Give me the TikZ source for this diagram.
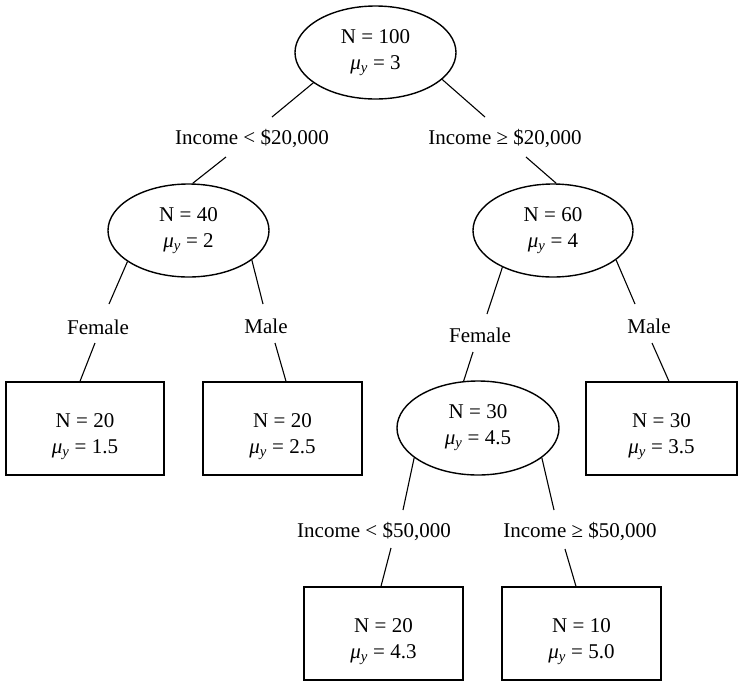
\documentclass[tikz,border=0pt]{standalone}
\usepackage{fontspec}
\setmainfont{Liberation Serif}
\usetikzlibrary{shapes.geometric,calc}
\newcommand\myMu{\textit{μ}\textsubscript{\textit{y}}}
\newcommand\myLow{\rule{0pt}{30pt}}
\begin{document}
\begin{tikzpicture}[x=1pt,y=-1pt,
  every node/.style={font=\fontsize{21}{26}\selectfont, inner sep=0pt},
  oval/.style={ellipse, draw, line width=1.4pt, align=center},
  leaf/.style={rectangle, draw, line width=1.4pt, align=center, minimum height=93pt},
  cond/.style={align=center},
  edge/.style={line width=1.1pt}]
\useasboundingbox (0,0) rectangle (740,681);

% internal nodes
\node[oval, minimum width=161pt, minimum height=93pt] (root) at (375.5,52.5) {N = 100\\\myMu{} = 3};
\node[oval, minimum width=161pt, minimum height=93pt] (n40) at (188.5,230.5) {N = 40\\\myMu{} = 2};
\node[oval, minimum width=160pt, minimum height=93pt] (n60) at (553,230.5) {N = 60\\\myMu{} = 4};
\node[oval, minimum width=162pt, minimum height=94pt] (n30) at (478,428) {N = 30\\\myMu{} = 4.5};

% leaves
\node[leaf, minimum width=158pt] (b1) at (85,428.5) {\myLow N = 20\\\myMu{} = 1.5};
\node[leaf, minimum width=159pt] (b2) at (282.5,428.5) {\myLow N = 20\\\myMu{} = 2.5};
\node[leaf, minimum width=151pt] (b3) at (661.5,428.5) {\myLow N = 30\\\myMu{} = 3.5};
\node[leaf, minimum width=159pt] (b4) at (383.5,633.5) {\myLow N = 20\\\myMu{} = 4.3};
\node[leaf, minimum width=159pt] (b5) at (581.5,633.5) {\myLow N = 10\\\myMu{} = 5.0};

% split labels
\node[cond] (L1) at (252,139) {Income < \$20,000};
\node[cond] (L2) at (505,139) {Income ≥ \$20,000};
\node[cond] (F1) at (98,327) {Female};
\node[cond] (M1) at (266,326) {Male};
\node[cond] (F2) at (480,335) {Female};
\node[cond] (M2) at (649,326) {Male};
\node[cond] (L3) at (374,532) {Income < \$50,000};
\node[cond] (L4) at (580,532) {Income ≥ \$50,000};

% connectors
\draw[edge] (root.206) -- ($(L1)+(20,-22)$);
\draw[edge] (root.338) -- ($(L2)+(-20,-22)$);
\draw[edge] ($(L1)+(-26,18)$) -- (n40.85);
\draw[edge] ($(L2)+(21,18)$) -- (n60.86);
\draw[edge] (n40.207) -- ($(F1)+(11,-23)$);
\draw[edge] (n40.335) -- ($(M1)+(-3,-22)$);
\draw[edge] ($(F1)+(-3,16)$) -- ($(b1.north)+(-5,0)$);
\draw[edge] ($(M1)+(9,17)$) -- ($(b2.north)+(3.5,0)$);
\draw[edge] (n60.216) -- ($(F2)+(7,-21)$);
\draw[edge] (n60.335) -- ($(M2)+(-14,-22)$);
\draw[edge] ($(F2)+(-7,17)$) -- (n30.107);
\draw[edge] ($(M2)+(3,17)$) -- ($(b3.north)+(7.5,0)$);
\draw[edge] (n30.205) -- ($(L3)+(29,-22)$);
\draw[edge] (n30.335) -- ($(L4)+(-26,-22)$);
\draw[edge] ($(L3)+(17,16)$) -- ($(b4.north)+(-2.5,0)$);
\draw[edge] ($(L4)+(-15,17)$) -- ($(b5.north)+(-5.5,0)$);
\end{tikzpicture}
\end{document}
